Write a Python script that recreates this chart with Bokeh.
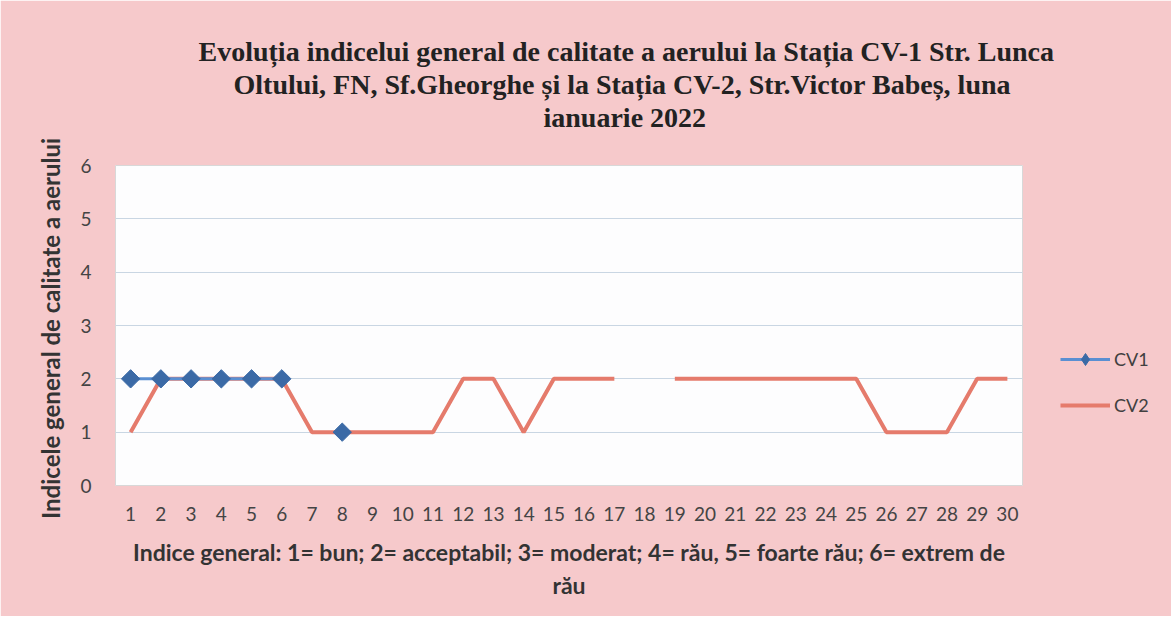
from bokeh.plotting import figure
from bokeh.models import Range1d, FixedTicker, Legend, LegendItem, Title
from bokeh.embed import file_html
from bokeh.resources import INLINE
import numpy as np

days = list(range(1, 31))
cv1 = [2, 2, 2, 2, 2, 2, np.nan, 1] + [np.nan] * 22
cv2 = [1, 2, 2, 2, 2, 2, 1, 1, 1, 1, 1, 2, 2, 1, 2, 2, 2, np.nan,
       2, 2, 2, 2, 2, 2, 2, 1, 1, 1, 2, 2]
y_ticks = [0, 1, 2, 3, 4, 5, 6]

title_lines = [
    "Evoluția indicelui general de calitate a aerului la Stația CV-1 Str. Lunca",
    "Oltului, FN, Sf.Gheorghe și la Stația CV-2, Str.Victor Babeș, luna",
    "ianuarie 2022",
]
xlabel_lines = [
    "Indice general: 1= bun; 2= acceptabil; 3= moderat; 4= rău, 5= foarte rău; 6= extrem de",
    "rău",
]
ylabel = "Indicele general  de calitate a aerului"

PINK = "#f6c9cb"
BLUE_LINE = "#5a8fd2"
BLUE_MARK = "#3b6aa6"
RED_LINE = "#e57b6c"

p = figure(title=None, frame_width=907, frame_height=320,
           output_backend="svg", toolbar_location=None,
           x_range=Range1d(0.5, 30.5), y_range=Range1d(0, 6),
           min_border_left=115, min_border_right=141,
           min_border_top=165, min_border_bottom=131)
p.background_fill_color = "#fdfdfe"
p.border_fill_color = PINK
p.outline_line_color = "#d8d8d8"

p.xaxis.ticker = FixedTicker(ticks=days)
p.yaxis.ticker = FixedTicker(ticks=y_ticks)
for ax in (p.xaxis, p.yaxis):
    ax.axis_line_color = None
    ax.major_tick_line_color = None
    ax.minor_tick_line_color = None
    ax.major_label_text_font = "Lato"
    ax.major_label_text_font_size = "19px"
    ax.major_label_text_color = "#444444"
p.xaxis.major_label_standoff = 15
p.yaxis.major_label_standoff = 18
p.xgrid.grid_line_color = None
p.ygrid.grid_line_color = "#c9d6e3"
p.ygrid.grid_line_width = 1

p.yaxis.axis_label = ylabel
p.yaxis.axis_label_text_font = "Lato"
p.yaxis.axis_label_text_font_style = "bold"
p.yaxis.axis_label_text_font_size = "24px"
p.yaxis.axis_label_text_color = "#333333"
p.yaxis.axis_label_standoff = 12

p.xaxis.axis_label = "\n".join(xlabel_lines)
p.xaxis.axis_label_text_font = "Lato"
p.xaxis.axis_label_text_font_style = "bold"
p.xaxis.axis_label_text_font_size = "23px"
p.xaxis.axis_label_text_color = "#333333"
p.xaxis.axis_label_text_line_height = 1.2
p.xaxis.axis_label_standoff = 14

r2 = p.line(days, cv2, line_color=RED_LINE, line_width=4)
r1 = p.line(days, cv1, line_color=BLUE_LINE, line_width=3)
m1 = p.scatter(days, cv1, marker="square", size=13, angle=0.785398,
               fill_color=BLUE_MARK, line_color=BLUE_MARK)
# hidden diamond renderer used only for the legend swatch
m_leg = p.scatter(days, cv1, marker="diamond", fill_color=BLUE_MARK,
                  line_color=BLUE_MARK, visible=False)

legend = Legend(items=[LegendItem(label="CV1", renderers=[r1, m_leg]),
                       LegendItem(label="CV2", renderers=[r2])],
                location=(38, 65), padding=0, margin=0, spacing=16,
                glyph_width=50, glyph_height=30, label_height=30,
                label_standoff=4, background_fill_alpha=0,
                inactive_fill_alpha=0,
                border_line_color=None, label_text_font="Lato",
                label_text_font_size="18px", label_text_color="#404040")
p.add_layout(legend, "right")

# spacer between plot and title block
p.add_layout(Title(text=" ", standoff=0, text_font="Liberation Serif",
                   text_font_size="28px"), "above")
# title lines, added from the plot outward
title_offsets = [83, 118, 428]
for i in (2, 1, 0):
    p.add_layout(Title(text=title_lines[i], align="left",
                       offset=title_offsets[i], standoff=0,
                       text_font="Liberation Serif", text_font_style="bold",
                       text_font_size="28px", text_color="#222222"), "above")

open("out.html", "w").write(file_html(p, INLINE))
